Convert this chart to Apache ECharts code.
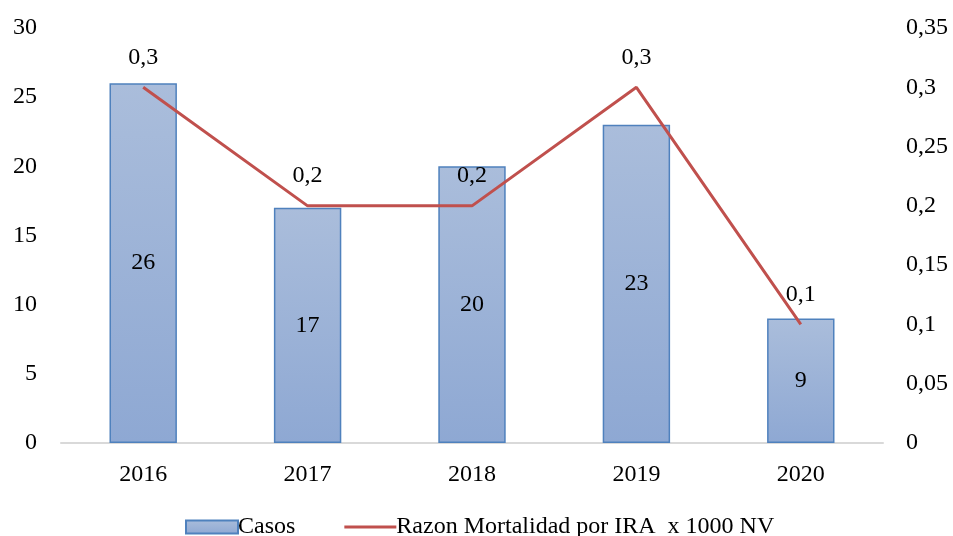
<!DOCTYPE html>
<html><head><meta charset="utf-8">
<script src="https://cdn.jsdelivr.net/npm/echarts@6/dist/echarts.min.js"></script>
<style>html,body{margin:0;padding:0;background:#fff}#c{width:953px;height:536px}</style>
</head><body><div id="c"></div>
<script>
const categories = ['2016','2017','2018','2019','2020'];
const casos = [26, 17, 20, 23, 9];
const razon = [0.3, 0.2, 0.2, 0.3, 0.1];
const leftTicks = {min:0, max:30, interval:5};
const rightTicks = {min:0, max:0.35, interval:0.05};
const FONT = 'Liberation Serif';
const FS = 24;
const fmt = v => String(+v.toFixed(2)).replace('.', ',');
const chart = echarts.init(document.getElementById('c'));
chart.setOption({
  animation:false,
  textStyle:{fontFamily:FONT, color:'#000'},
  grid:{left:61, right:70, top:28, bottom:93},
  legend:{
    top:510, left:180, itemGap:49, itemWidth:52, itemHeight:13,
    textStyle:{fontFamily:FONT, fontSize:FS, color:'#000', padding:[0,0,0,-5]},
    data:[
      {name:'Casos', icon:'rect'},
      {name:'Razon Mortalidad por IRA  x 1000 NV', icon:'path://M0,0H52V3H0Z'}
    ]
  },
  xAxis:{type:'category', data:categories,
    axisLine:{lineStyle:{color:'#d9d9d9', width:2}}, axisTick:{show:false},
    axisLabel:{fontFamily:FONT, fontSize:FS, color:'#000', margin:20}},
  yAxis:[
    {type:'value', min:leftTicks.min, max:leftTicks.max, interval:leftTicks.interval,
     splitLine:{show:false}, axisLine:{show:false}, axisTick:{show:false},
     axisLabel:{fontFamily:FONT, fontSize:FS, color:'#000', margin:24}},
    {type:'value', min:rightTicks.min, max:rightTicks.max, interval:rightTicks.interval,
     splitLine:{show:false}, axisLine:{show:false}, axisTick:{show:false},
     axisLabel:{fontFamily:FONT, fontSize:FS, color:'#000', margin:23, formatter:fmt}}
  ],
  series:[
    {name:'Casos', type:'bar', data:casos, barWidth:'41%',
     itemStyle:{color:new echarts.graphic.LinearGradient(0,0,0,1,[{offset:0,color:'#aabddb'},{offset:1,color:'#8ea8d3'}]),
       borderColor:'#4f81bd', borderWidth:1.5},
     label:{show:true, position:'inside', fontFamily:FONT, fontSize:FS, color:'#000'}},
    {name:'Razon Mortalidad por IRA  x 1000 NV', type:'line', yAxisIndex:1, data:razon,
     symbol:'circle', symbolSize:0, showSymbol:true,
     lineStyle:{color:'#c0504d', width:3}, itemStyle:{color:'#c0504d'},
     label:{show:true, position:'top', distance:18, fontFamily:FONT, fontSize:FS, color:'#000',
       formatter:p=>fmt(p.value)}}
  ]
});
</script></body></html>
